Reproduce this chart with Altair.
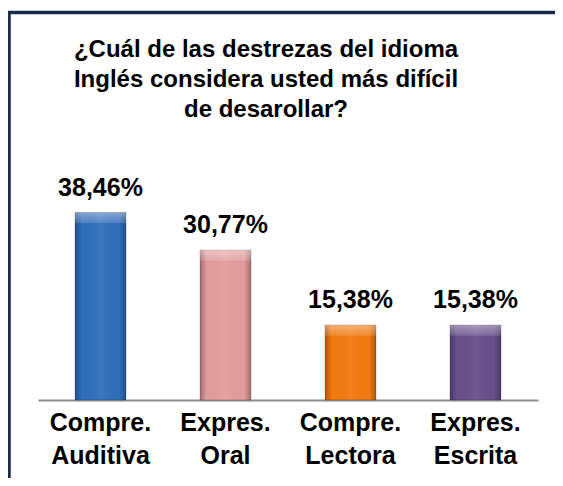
import altair as alt
import pandas as pd

categories = ["Compre. Auditiva", "Expres. Oral", "Compre. Lectora", "Expres. Escrita"]
values = [38.46, 30.77, 15.38, 15.38]
colors = ["#2F6EBA", "#E39C9C", "#F2790F", "#67508B"]
title_lines = ["¿Cuál de las destrezas del idioma", "Inglés considera usted más difícil", "de desarollar?"]

df = pd.DataFrame({"cat": categories, "value": values, "color": colors})

FONT = "Liberation Sans"

x_enc = alt.X("cat:N", sort=categories,
              scale=alt.Scale(paddingInner=0, paddingOuter=0),
              axis=alt.Axis(title=None, labelAngle=0, ticks=False,
                            domainColor="#8C8C8C", domainWidth=2,
                            labelFont=FONT, labelFontSize=25, labelFontWeight="bold",
                            labelColor="#000000", labelPadding=10, labelLineHeight=33,
                            labelExpr="split(datum.value, ' ')"))
y_enc = alt.Y("value:Q", scale=alt.Scale(domain=[0, 47], nice=False), axis=None)

base = alt.Chart(df)

bars = base.mark_bar(size=51, stroke="#00000033", strokeWidth=1).encode(
    x=x_enc, y=y_enc,
    color=alt.Color("color:N", scale=None),
)

side_shade = base.mark_bar(size=51, color=alt.Gradient(
    gradient="linear",
    stops=[alt.GradientStop(color="rgba(0,0,0,0.28)", offset=0),
           alt.GradientStop(color="rgba(0,0,0,0.0)", offset=0.14),
           alt.GradientStop(color="rgba(255,255,255,0.06)", offset=0.5),
           alt.GradientStop(color="rgba(0,0,0,0.0)", offset=0.86),
           alt.GradientStop(color="rgba(0,0,0,0.28)", offset=1)],
    x1=0, x2=1, y1=0, y2=0)).encode(x=alt.X("cat:N", sort=categories), y="value:Q")

top_bevel = base.transform_calculate(ytop="datum.value - 2.2").mark_bar(
    size=51, color=alt.Gradient(
        gradient="linear",
        stops=[alt.GradientStop(color="rgba(255,255,255,0.40)", offset=0),
               alt.GradientStop(color="rgba(255,255,255,0.12)", offset=1)],
        x1=0, x2=0, y1=0, y2=1)).encode(
    x=alt.X("cat:N", sort=categories), y="value:Q", y2="ytop:Q")

labels = base.transform_calculate(
    lab="replace(format(datum.value, '.2f'), '.', ',') + '%'"
).mark_text(font=FONT, fontSize=25, fontWeight="bold", color="#000000",
            baseline="alphabetic", dy=-17).encode(
    x=alt.X("cat:N", sort=categories), y="value:Q", text="lab:N")

frame = alt.Chart(alt.Data(values=[{}])).mark_rect(
    fill=None, stroke="#1B2B4B", strokeWidth=3.5).encode(
    x=alt.value(-29), x2=alt.value(700), y=alt.value(-158.5), y2=alt.value(700))

chart = alt.layer(frame, bars, side_shade, top_bevel, labels).properties(
    width=500, height=229,
    background="#FFFFFF",
    autosize=alt.AutoSizeParams(type="none"),
    padding={"left": 30, "top": 163, "right": 17, "bottom": 78},
    title=alt.TitleParams(text=title_lines, font=FONT, fontSize=24, fontWeight="bold",
                          color="#000000", lineHeight=30, anchor="middle",
                          baseline="alphabetic", frame="group", dx=-22, dy=130, offset=0),
).configure_view(stroke=None)

chart.save("out.html", embed_options={"renderer": "svg", "actions": False})
